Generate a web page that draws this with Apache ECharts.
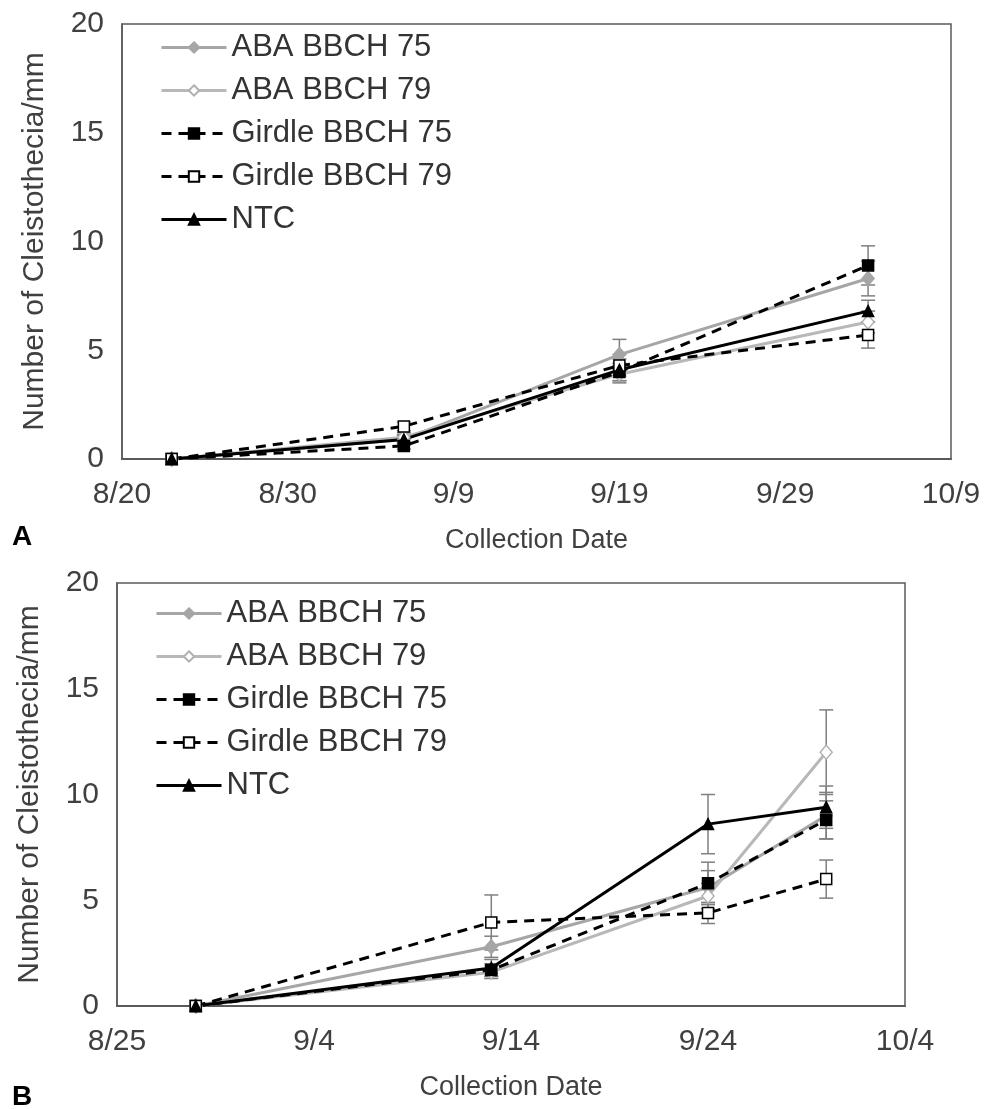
<!DOCTYPE html>
<html>
<head>
<meta charset="utf-8">
<script src="https://cdn.jsdelivr.net/npm/echarts@6/dist/echarts.min.js"></script>
<style>
  html, body { margin: 0; padding: 0; background: #fff; }
  #chart { width: 984px; height: 1109px; }
</style>
</head>
<body>
<div id="chart"></div>
<script>
// series names
const names = ['ABA BBCH 75', 'ABA BBCH 79', 'Girdle BBCH 75', 'Girdle BBCH 79', 'NTC'];

// panel A
const originA = '8/20';
const datesA = ['8/23', '9/6', '9/19', '10/4'];
const aba75A = [0, 0.9, 4.8, 8.3];
const aba79A = [0, 1.0, 3.9, 6.3];
const gir75A = [0, 0.6, 4.0, 8.9];
const gir79A = [0, 1.5, 4.3, 5.7];
const ntcA = [0, 0.9, 4.1, 6.8];
const aba75ErrA = [0, 0.2, 0.7, 0.8];
const aba79ErrA = [0, 0.2, 0.4, 0.5];
const gir75ErrA = [0, 0.15, 0.4, 0.9];
const gir79ErrA = [0, 0.2, 0.5, 0.6];
const ntcErrA = [0, 0.2, 0.5, 0.5];

// panel B
const originB = '8/25';
const datesB = ['8/29', '9/13', '9/24', '9/30'];
const aba75B = [0, 2.8, 5.6, 9.0];
const aba79B = [0, 1.6, 5.2, 12.0];
const gir75B = [0, 1.7, 5.8, 8.8];
const gir79B = [0, 3.95, 4.4, 6.0];
const ntcB = [0, 1.8, 8.6, 9.4];
const aba75ErrB = [0, 0.5, 0.8, 1.1];
const aba79ErrB = [0, 0.3, 0.6, 2.0];
const gir75ErrB = [0, 0.3, 1.0, 0.9];
const gir79ErrB = [0, 1.3, 0.5, 0.9];
const ntcErrB = [0, 0.4, 1.4, 1.0];

const FONT = '"Liberation Sans", Arial, sans-serif';
const TXT = '#404040';

function toDay(md) {
  const [m, d] = md.split('/').map(Number);
  return Date.UTC(2019, m - 1, d) / 86400000;
}
function dayLabel(origin) {
  return (v) => {
    const dt = new Date((toDay(origin) + v) * 86400000);
    return (dt.getUTCMonth() + 1) + '/' + dt.getUTCDate();
  };
}

const styles = [
  { symbol: 'diamond', size: [12, 14], line: '#a6a6a6', type: 'solid', fill: '#a6a6a6', border: '#a6a6a6' },
  { symbol: 'diamond', size: [12, 14], line: '#b8b8b8', type: 'solid', fill: '#fff', border: '#b0b0b0' },
  { symbol: 'rect', size: 11, line: '#000', type: [10, 7], fill: '#000', border: '#000' },
  { symbol: 'rect', size: 11, line: '#000', type: [10, 7], fill: '#fff', border: '#000' },
  { symbol: 'triangle', size: 11, line: '#000', type: 'solid', fill: '#000', border: '#000' },
];

function lineSeries(idx, axis, origin, dates, vals) {
  const s = styles[idx];
  return {
    name: names[idx],
    type: 'line',
    xAxisIndex: axis,
    yAxisIndex: axis,
    z: 3,
    symbol: s.symbol,
    symbolSize: s.size,
    showAllSymbol: true,
    lineStyle: { color: s.line, width: 3, type: s.type },
    itemStyle: { color: s.fill, borderColor: s.border, borderWidth: 1.5 },
    emphasis: { disabled: true },
    data: dates.map((d, i) => [toDay(d) - toDay(origin), vals[i]]),
  };
}

function errSeries(axis, origin, dates, vals, errs) {
  return {
    type: 'custom',
    xAxisIndex: axis,
    yAxisIndex: axis,
    silent: true,
    z: 2,
    encode: { x: 0, y: [1, 2] },
    data: dates.map((d, i) => [toDay(d) - toDay(origin), vals[i] - errs[i], vals[i] + errs[i]]),
    renderItem(params, api) {
      const x = api.value(0);
      const lo = api.coord([x, api.value(1)]);
      const hi = api.coord([x, api.value(2)]);
      if (Math.abs(lo[1] - hi[1]) < 1) return null;
      const w = 7;
      const st = { stroke: '#7f7f7f', lineWidth: 1.5 };
      return {
        type: 'group',
        children: [
          { type: 'line', shape: { x1: hi[0], y1: hi[1], x2: lo[0], y2: lo[1] }, style: st },
          { type: 'line', shape: { x1: hi[0] - w, y1: hi[1], x2: hi[0] + w, y2: hi[1] }, style: st },
          { type: 'line', shape: { x1: lo[0] - w, y1: lo[1], x2: lo[0] + w, y2: lo[1] }, style: st },
        ],
      };
    },
  };
}

function xAxis(grid, origin, max) {
  return {
    type: 'value',
    gridIndex: grid,
    min: 0,
    max: max,
    interval: 10,
    name: 'Collection Date',
    nameLocation: 'middle',
    nameGap: 68,
    nameTextStyle: { fontSize: 27, color: TXT, fontFamily: FONT },
    axisLine: { show: true, lineStyle: { color: '#595959', width: 2 } },
    axisTick: { show: false },
    splitLine: { show: false },
    axisLabel: { fontSize: 30, color: TXT, fontFamily: FONT, margin: 21, formatter: dayLabel(origin) },
  };
}

function yAxis(grid) {
  return {
    type: 'value',
    gridIndex: grid,
    min: 0,
    max: 20,
    interval: 5,
    name: 'Number of Cleistothecia/mm',
    nameLocation: 'middle',
    nameGap: 72,
    nameTextStyle: { fontSize: 30, color: TXT, fontFamily: FONT },
    axisLine: { show: true, lineStyle: { color: '#595959', width: 1.5 } },
    axisTick: { show: false },
    splitLine: { show: false },
    axisLabel: { fontSize: 30, color: TXT, fontFamily: FONT, margin: 18 },
  };
}

function legend(left, top) {
  return {
    orient: 'vertical',
    left: left,
    top: top,
    itemWidth: 65,
    itemHeight: 13,
    itemGap: 12,
    selectedMode: false,
    data: names,
    lineStyle: { width: 3 },
    textStyle: { fontSize: 31, color: '#333', fontFamily: FONT, lineHeight: 31 },
  };
}

const seriesA = [aba75A, aba79A, gir75A, gir79A, ntcA];
const errsA = [aba75ErrA, aba79ErrA, gir75ErrA, gir79ErrA, ntcErrA];
const seriesB = [aba75B, aba79B, gir75B, gir79B, ntcB];
const errsB = [aba75ErrB, aba79ErrB, gir75ErrB, gir79ErrB, ntcErrB];

const series = [];
seriesA.forEach((v, i) => series.push(errSeries(0, originA, datesA, v, errsA[i])));
seriesB.forEach((v, i) => series.push(errSeries(1, originB, datesB, v, errsB[i])));
// gray first, black on top
seriesA.forEach((v, i) => series.push(lineSeries(i, 0, originA, datesA, v)));
seriesB.forEach((v, i) => series.push(lineSeries(i, 1, originB, datesB, v)));

const chart = echarts.init(document.getElementById('chart'), null, { renderer: 'canvas' });
chart.setOption({
  animation: false,
  backgroundColor: '#fff',
  grid: [
    { left: 122, right: 33, top: 24, height: 435, show: true, borderColor: '#595959', borderWidth: 1.5 },
    { left: 117, right: 79, top: 583, height: 423, show: true, borderColor: '#595959', borderWidth: 1.5 },
  ],
  xAxis: [xAxis(0, originA, 50), xAxis(1, originB, 40)],
  yAxis: [yAxis(0), yAxis(1)],
  legend: [legend(155, 27), legend(150, 593)],
  graphic: [
    { type: 'text', left: 12, top: 523, style: { text: 'A', font: 'bold 28px ' + FONT, fill: '#000' } },
    { type: 'text', left: 12, top: 1083, style: { text: 'B', font: 'bold 28px ' + FONT, fill: '#000' } },
  ],
  series: series,
});
</script>
</body>
</html>
